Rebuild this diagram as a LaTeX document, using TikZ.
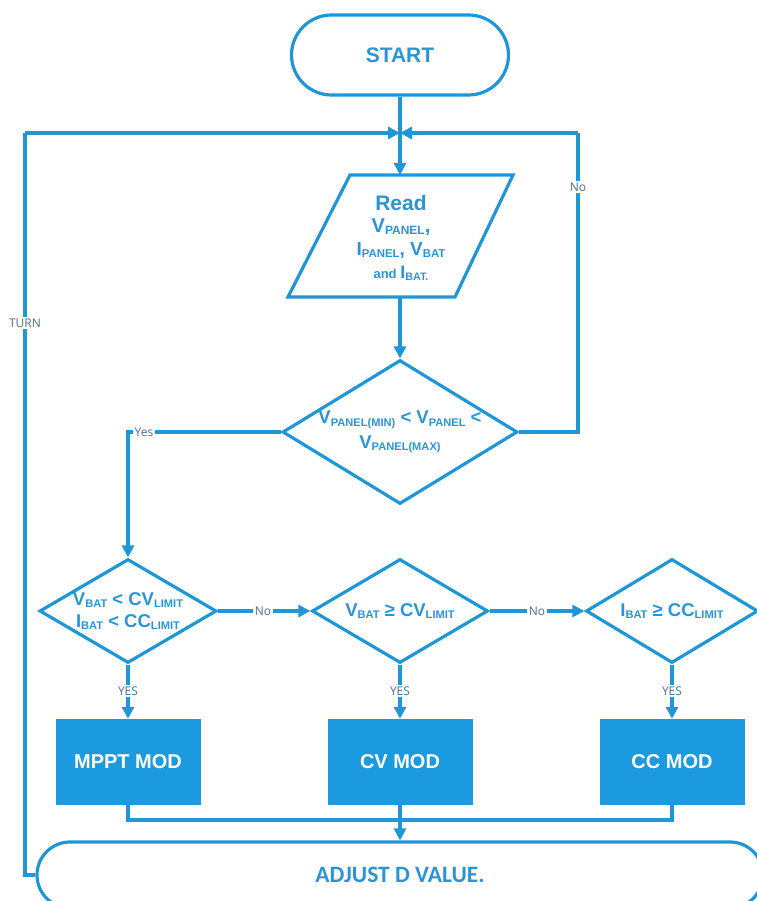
\documentclass[tikz,border=0pt]{standalone}
\usepackage{fontspec}
\usepackage{graphicx}
\setmainfont{Liberation Sans}
\newfontfamily\lblfont{Open Sans}
\newfontfamily\calfont{Carlito}
\usetikzlibrary{shapes.geometric,shapes.misc,arrows.meta}
\definecolor{fcblue}{HTML}{1F96D6}
\definecolor{fcfill}{HTML}{1C9AE0}
\definecolor{fctext}{HTML}{2A95D5}
\definecolor{fclbl}{HTML}{4F6F8A}
\newcommand{\lo}[1]{\raisebox{-0.12em}{\scalebox{0.6}{#1}}}
\newcommand{\fs}[1]{\fontsize{#1}{#1}\selectfont}
\tikzset{
  x=1pt, y=1pt,
  ln/.style={draw=fcblue, line width=3.2pt},
  arr/.style={ln, -{Triangle[length=12pt,width=12pt]}},
  termbox/.style={rounded rectangle, ln, inner sep=0pt, font=\bfseries\fs{21}, text=fctext},
  decbox/.style={diamond, ln, inner sep=0pt},
  dectext/.style={inner sep=0pt, font=\bfseries\fs{18.5}, text=fctext, align=center},
  modbox/.style={rectangle, fill=fcfill, draw=none, minimum width=145pt, minimum height=86pt, text=white, font=\bfseries\fs{20}},
  lbl/.style={fill=white, text=fclbl, inner sep=1.5pt, font=\lblfont\fs{12}},
}
\begin{document}
\begin{tikzpicture}
\useasboundingbox (0,0) rectangle (756,-901);
% start
\node[termbox, minimum width=217pt, minimum height=80pt] (start) at (400,-55) {START};
\coordinate (j) at (400,-133);
% input parallelogram
\coordinate (pt) at (400,-175);
\coordinate (pb) at (400,-297);
\draw[ln, line join=miter] (350,-175) -- (513,-175) -- (455,-297) -- (288,-297) -- cycle;
\node[text=fctext, font=\bfseries, align=center, inner sep=0pt] (read) at (401,-238)
  {{\fs{21}Read}\\[7pt]
   {\fs{20}V\lo{PANEL},}\\[6pt]
   {\fs{19}I\lo{PANEL}, V\lo{BAT}}\\[7pt]
   {\fs{13}and {\fs{18}I\lo{BAT.}}}};
% decisions
\node[decbox, minimum width=235pt, minimum height=144pt] (d1) at (400,-432) {};
\node[dectext] (d1t) at (d1.center)
  {V\lo{PANEL(MIN)} < V\lo{PANEL} <\\[6pt] V\lo{PANEL(MAX)}};
\node[decbox, minimum width=177pt, minimum height=104pt] (d2) at (128,-611) {};
\node[dectext] (d2t) at (d2.center)
  {V\lo{BAT} < CV\lo{LIMIT}\\[4pt] I\lo{BAT} < CC\lo{LIMIT}};
\node[decbox, minimum width=176pt, minimum height=104pt] (d3) at (400,-611) {};
\node[dectext] (d3t) at (d3.center) {V\lo{BAT} ≥ CV\lo{LIMIT}};
\node[decbox, minimum width=172pt, minimum height=104pt] (d4) at (672,-611) {};
\node[dectext] (d4t) at (d4.center) {I\lo{BAT} ≥ CC\lo{LIMIT}};
% mode boxes
\node[modbox] (mppt) at (128,-762) {MPPT MOD};
\node[modbox] (cv) at (400,-762) {CV MOD};
\node[modbox] (cc) at (672,-762) {CC MOD};
% adjust terminal
\node[termbox, minimum width=726pt, minimum height=66pt, font=\calfont\bfseries\fs{23.5}] (adj) at (400,-875) {ADJUST D VALUE.};
% connectors
\draw[ln] (start.south) -- (j);
\draw[arr] (j) -- (pt);
\draw[arr] (pb) -- (d1.north);
\coordinate (nr) at (578,-432);
\coordinate (nt) at (578,-133);
\draw[ln] (d1.east) -- (nr) -- (nt);
\draw[arr] (nt) -- (j);
\node[lbl] (no1) at (578,-187) {No};
\coordinate (yc) at (128,-432);
\draw[arr] (d1.west) -- (yc) -- (d2.north);
\node[lbl] (yes1) at (144,-432) {Yes};
\draw[arr] (d2.east) -- (d3.west);
\node[lbl] (no2) at (263,-611) {No};
\draw[arr] (d3.east) -- (d4.west);
\node[lbl] (no3) at (537,-611) {No};
\draw[arr] (d2.south) -- (mppt.north);
\draw[arr] (d3.south) -- (cv.north);
\draw[arr] (d4.south) -- (cc.north);
\node[lbl] (y1) at (128,-691) {YES};
\node[lbl] (y2) at (400,-691) {YES};
\node[lbl] (y3) at (672,-691) {YES};
\coordinate (mrg) at (400,-820);
\draw[ln] (mppt.south) |- (mrg) -| (cc.south);
\draw[ln] (cv.south) -- (mrg);
\draw[arr] (mrg) -- (adj.north);
\coordinate (lb) at (25,-875);
\coordinate (lt) at (25,-133);
\draw[ln] (adj.west) -- (lb) -- (lt);
\draw[arr] (lt) -- (j);
\node[lbl] (turn) at (25,-323) {TURN};
\end{tikzpicture}
\end{document}
